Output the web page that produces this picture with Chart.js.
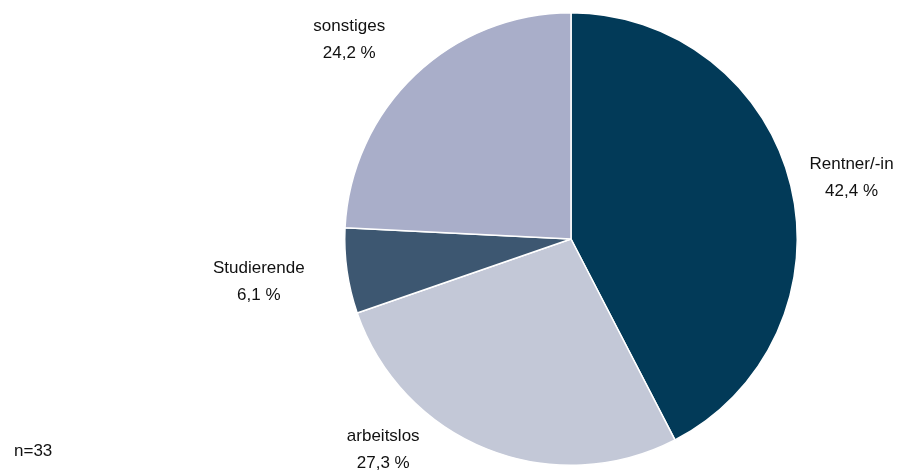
<!DOCTYPE html>
<html lang="de">
<head>
<meta charset="utf-8">
<title>Erwerbsstatus</title>
<script src="https://cdn.jsdelivr.net/npm/chart.js@4.4.1/dist/chart.umd.min.js"></script>
<style>
  html, body { margin: 0; padding: 0; background: #fff; }
  #wrap { position: relative; width: 916px; height: 470px; }
  #note { position: absolute; left: 14px; top: 441px; font: 17px "Liberation Sans", Arial, sans-serif; color: #111; }
</style>
</head>
<body>
<div id="wrap">
  <canvas id="statusChart" width="916" height="470"></canvas>
  <div id="note">n=33</div>
</div>
<script>
const categories = ['Rentner/-in', 'arbeitslos', 'Studierende', 'sonstiges'];
const shares = [42.4, 27.3, 6.1, 24.2];
const sliceColors = ['#023a58', '#c3c8d7', '#3d5771', '#a9aec9'];

// label anchors relative to the pie centre, in units of the radius
const labelOffsets = [
  [1.24, -0.27],
  [-0.83, 0.93],
  [-1.38, 0.19],
  [-0.98, -0.88]
];

const fmt = v => v.toFixed(1).replace('.', ',') + ' %';

const outsideLabels = {
  id: 'outsideLabels',
  afterDatasetsDraw(chart) {
    const ctx = chart.ctx;
    const arcs = chart.getDatasetMeta(0).data;
    ctx.save();
    ctx.font = '17px "Liberation Sans", Arial, sans-serif';
    ctx.fillStyle = '#111';
    ctx.textAlign = 'center';
    ctx.textBaseline = 'middle';
    arcs.forEach((arc, i) => {
      const r = arc.outerRadius;
      const x = arc.x + labelOffsets[i][0] * r;
      const y = arc.y + labelOffsets[i][1] * r;
      ctx.fillText(categories[i], x, y - 13.5);
      ctx.fillText(fmt(shares[i]), x, y + 13.5);
    });
    ctx.restore();
  }
};

new Chart(document.getElementById('statusChart'), {
  type: 'pie',
  data: {
    labels: categories,
    datasets: [{
      data: shares,
      backgroundColor: sliceColors,
      borderColor: '#ffffff',
      borderWidth: 1.5
    }]
  },
  options: {
    responsive: false,
    animation: false,
    layout: { padding: { left: 226, right: 0, top: 12, bottom: 4 } },
    plugins: {
      legend: { display: false },
      tooltip: { enabled: false }
    }
  },
  plugins: [outsideLabels]
});
</script>
</body>
</html>
